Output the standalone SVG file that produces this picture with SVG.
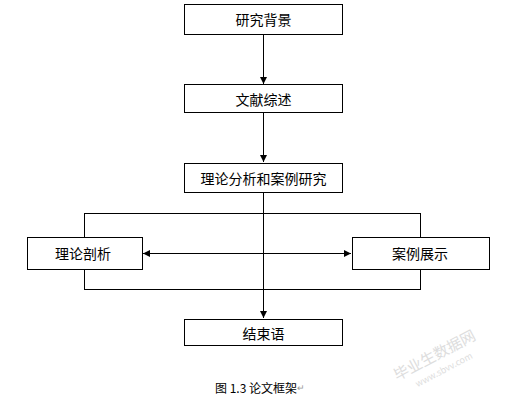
<svg xmlns="http://www.w3.org/2000/svg" width="506" height="402" viewBox="0 0 506 402">
<defs>
<marker id="arr" markerWidth="8" markerHeight="8" refX="7" refY="4" orient="auto" markerUnits="userSpaceOnUse">
<path d="M0,0.5 L7,4 L0,7.5 Z" fill="#000"/>
</marker>
<style>
.box{fill:#fff;stroke:#000;stroke-width:1}
.ln{fill:none;stroke:#000;stroke-width:1}
.t{font-family:"Noto Sans CJK SC","Liberation Sans",sans-serif;font-size:14px;fill:#000;text-anchor:middle;dominant-baseline:central}
</style>
</defs>
<rect width="506" height="402" fill="#fff"/>
<g id="connectors">
<rect class="ln" x="84.5" y="213.5" width="336" height="76"/>
<line class="ln" x1="263.5" y1="35" x2="263.5" y2="84" marker-end="url(#arr)"/>
<line class="ln" x1="263.5" y1="113" x2="263.5" y2="162" marker-end="url(#arr)"/>
<line class="ln" x1="263.5" y1="193" x2="263.5" y2="318" marker-end="url(#arr)"/>
<line class="ln" x1="263.5" y1="253.5" x2="143" y2="253.5" marker-end="url(#arr)"/>
<line class="ln" x1="263.5" y1="253.5" x2="351" y2="253.5" marker-end="url(#arr)"/>
</g>
<g id="n1"><rect class="box" x="184.5" y="4.5" width="158" height="30"/><text class="t" x="263.5" y="19">研究背景</text></g>
<g id="n2"><rect class="box" x="184.5" y="84.5" width="158" height="28"/><text class="t" x="263.5" y="98.5">文献综述</text></g>
<g id="n3"><rect class="box" x="184.5" y="163.5" width="158" height="29"/><text class="t" x="263.5" y="178">理论分析和案例研究</text></g>
<g id="n4"><rect class="box" x="27.5" y="237.5" width="115" height="32"/><text class="t" x="83" y="253">理论剖析</text></g>
<g id="n5"><rect class="box" x="352.5" y="237.5" width="137" height="32"/><text class="t" x="420" y="253">案例展示</text></g>
<g id="n6"><rect class="box" x="184.5" y="319.5" width="158" height="26"/><text class="t" x="263.5" y="332.5">结束语</text></g>
<text x="215" y="387" font-family="'Noto Sans CJK SC','Liberation Sans',sans-serif" font-size="12" dominant-baseline="central" xml:space="preserve">图 1.3 论文框架<tspan fill="#999" font-size="9">↵</tspan></text>
<g fill="#ddd" font-family="'Noto Sans CJK SC',sans-serif" transform="rotate(-28 440 355)">
<text x="390" y="358" font-size="15">毕业生数据网</text>
<text x="405" y="373" font-size="9">www.sbvv.com</text>
</g>
</svg>
